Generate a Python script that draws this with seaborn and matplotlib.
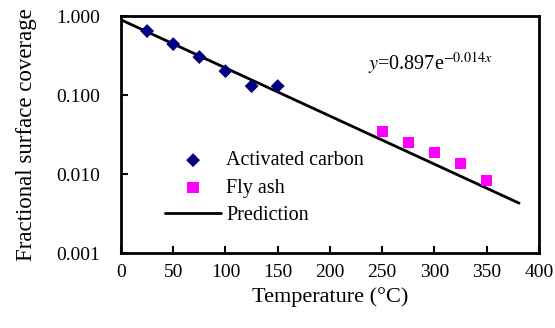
import numpy as np
import pandas as pd
import seaborn as sns
import matplotlib
matplotlib.use('Agg')
from matplotlib import pyplot as plt

# data
ac_temp = [25, 50, 75, 100, 125, 150]
ac_cov = [0.646, 0.442, 0.303, 0.201, 0.130, 0.130]
fa_temp = [250, 275, 300, 325, 350]
fa_cov = [0.035, 0.025, 0.0186, 0.0138, 0.0084]
pred_temp = [0, 381]
pred_cov = [0.897, 0.0043]

ac = pd.DataFrame({'T': ac_temp, 'cov': ac_cov})
fa = pd.DataFrame({'T': fa_temp, 'cov': fa_cov})
pred = pd.DataFrame({'T': pred_temp, 'cov': pred_cov})

sns.set_style('ticks')
plt.rcParams['font.family'] = ['Liberation Serif', 'DejaVu Serif']
plt.rcParams['mathtext.fontset'] = 'stix'
plt.rcParams['text.color'] = 'black'
plt.rcParams['axes.labelcolor'] = 'black'
plt.rcParams['xtick.color'] = 'black'
plt.rcParams['ytick.color'] = 'black'
plt.rcParams['axes.edgecolor'] = 'black'

fig, ax = plt.subplots(figsize=(5.55, 3.28), dpi=100)
fig.subplots_adjust(left=0.218, right=0.971, top=0.951, bottom=0.228)

sns.scatterplot(data=ac, x='T', y='cov', marker='D', color='#000080', s=50,
                edgecolor='none', ax=ax, label='Activated carbon', zorder=3)
sns.scatterplot(data=fa, x='T', y='cov', marker='s', color='#FF00FF', s=65,
                edgecolor='none', ax=ax, label='Fly ash', zorder=3)
sns.lineplot(data=pred, x='T', y='cov', color='black', lw=2, ax=ax,
             label='Prediction', zorder=2)

ax.set_yscale('log')
ax.set_xlim(0, 400)
ax.set_ylim(0.001, 1.0)
ax.set_xticks(range(0, 401, 50))
ax.set_yticks([0.001, 0.01, 0.1, 1.0])
ax.set_yticklabels(['0.001', '0.010', '0.100', '1.000'])
ax.minorticks_off()
ax.tick_params(direction='in', length=5, width=1.5, labelsize=14)
ax.tick_params(axis='y', pad=15)
ax.tick_params(axis='x', pad=8)
for sp in ax.spines.values():
    sp.set_linewidth(2)
    sp.set_visible(True)

ax.set_xlabel('Temperature (°C)', fontsize=16, labelpad=4)
ax.set_ylabel('Fractional surface coverage', fontsize=16.5, labelpad=14)

ax.text(0.59, 0.80, r'$\it{y}$=0.897e$^{-0.014\it{x}}$', transform=ax.transAxes,
        fontsize=14.5, ha='left', va='center')

ax.legend(loc='lower left', bbox_to_anchor=(0.105, 0.12), frameon=False, fontsize=14.5,
          handlelength=2.8, handletextpad=0.25, labelspacing=0.4, borderaxespad=0,
          borderpad=0)

fig.savefig('out.png', dpi=100)
